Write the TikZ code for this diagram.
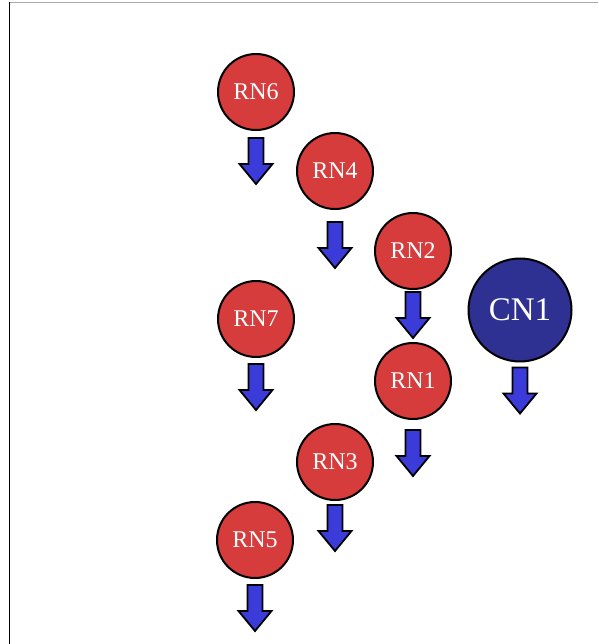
\documentclass[tikz,border=0pt]{standalone}
\usepackage{fontspec}
\setmainfont{Liberation Serif}
\definecolor{rnred}{HTML}{D63C3C}
\definecolor{cnblue}{HTML}{2E3192}
\definecolor{flowblue}{HTML}{3B3BD9}
\definecolor{framegray}{HTML}{AAAAAA}
\tikzset{
  rnode/.style={circle, draw=black, line width=2pt, fill=rnred,
    minimum size=76pt, inner sep=0pt, text=white, font=\fontsize{24}{24}\selectfont},
  cnode/.style={circle, draw=black, line width=2pt, fill=cnblue,
    minimum size=103pt, inner sep=0pt, text=white, font=\fontsize{33}{33}\selectfont},
  downarr/.pic={
    \filldraw[fill=flowblue, draw=black, line width=1.8pt, line join=miter]
      (-7.5,0) -- (7.5,0) -- (7.5,26) -- (16.5,26) -- (0,46)
      -- (-16.5,26) -- (-7.5,26) -- cycle;
  }
}
\begin{document}
\begin{tikzpicture}[x=1pt, y=-1pt]
  \useasboundingbox (0,0) rectangle (598,644);
  \fill[white] (0,0) rectangle (598,644);
  % frame edges
  \draw[framegray, line width=1pt] (9.5,2.5) -- (598,2.5);
  \draw[black, line width=1pt] (9.5,2.5) -- (9.5,644);

  % nodes
  \node[rnode] (rn6) at (256,92)  {RN6};
  \node[rnode] (rn4) at (335,171) {RN4};
  \node[rnode] (rn2) at (413,251) {RN2};
  \node[rnode] (rn7) at (256,319) {RN7};
  \node[rnode] (rn1) at (413,381) {RN1};
  \node[rnode] (rn3) at (335,462) {RN3};
  \node[rnode] (rn5) at (255,540) {RN5};
  \node[cnode] (cn1) at (520,310) {CN1};

  % downward arrows under each node
  \pic at ([yshift=-7pt]rn6.south)  {downarr};
  \pic at ([yshift=-12pt]rn4.south) {downarr};
  \pic at ([yshift=-2pt]rn2.south)  {downarr};
  \pic at ([yshift=-6pt]rn7.south)  {downarr};
  \pic at ([yshift=-10pt]rn1.south) {downarr};
  \pic at ([yshift=-4pt]rn3.south)  {downarr};
  \pic at ([yshift=-6pt]rn5.south)  {downarr};
  \pic at ([yshift=-5pt]cn1.south)  {downarr};
\end{tikzpicture}
\end{document}
